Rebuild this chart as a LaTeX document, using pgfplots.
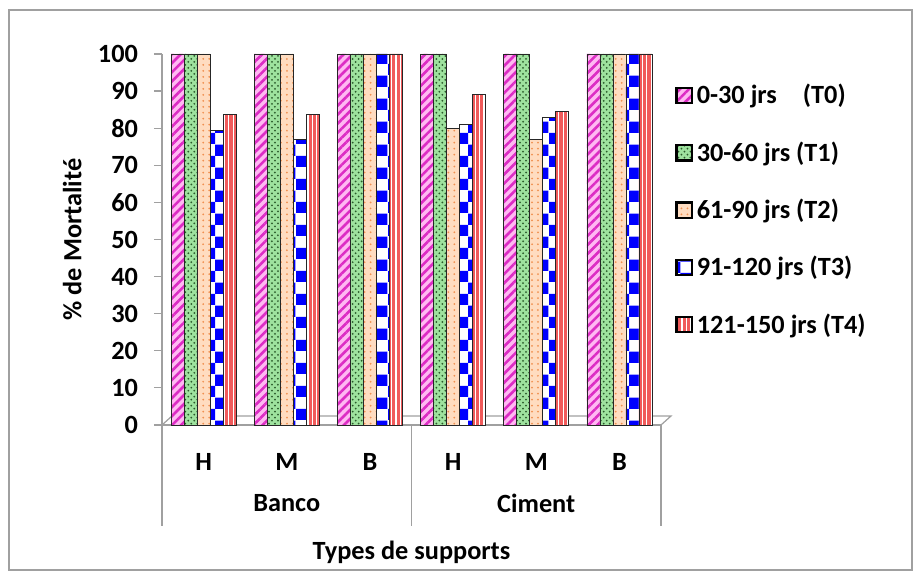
\documentclass[border=0pt]{standalone}
\usepackage{fontspec}
\setmainfont{Carlito}
\usepackage{pgfplots}
\pgfplotsset{compat=1.18}
\usetikzlibrary{patterns,patterns.meta}
\definecolor{pinkA}{HTML}{FFB8F2}
\definecolor{magA}{HTML}{DC2CC4}
\definecolor{grnA}{HTML}{9EE29E}
\definecolor{grnD}{HTML}{2A5A2A}
\definecolor{peach}{HTML}{FFDCC0}
\definecolor{orgA}{HTML}{F09050}
\definecolor{redA}{HTML}{F05A5A}
\definecolor{frame}{HTML}{A0A0A0}
\pgfplotstableread{
x T0 T1 T2 T3 T4
0 100 100 100 79.3 83.6
1 100 100 100 77.0 83.6
2 100 100 100 100 100
3 100 100 80.0 81.0 89.0
4 100 100 77.0 83.0 84.6
5 100 100 100 100 100
}\datatable
\begin{document}
\begin{tikzpicture}[font=\fontsize{13.2}{15.5}\selectfont\bfseries]
\useasboundingbox (0,0) rectangle (461bp,289.5bp);
\draw[frame, line width=0.6bp] (4.5bp,4.5bp) rectangle (456bp,284.5bp);
\begin{axis}[
  at={(81bp,77bp)}, anchor=south west,
  scale only axis, width=249.5bp, height=185.5bp,
  xmin=-0.5, xmax=5.5, ymin=0, ymax=100,
  ybar=0pt, bar width=6.5bp,
  axis x line*=bottom, axis y line*=left,
  axis line style={draw=frame, line width=0.6bp},
  ytick={0,10,...,100},
  ytick style={draw=frame, line width=0.6bp},
  tick align=outside, major tick length=4bp,
  xtick={0,1,2,3,4,5}, xticklabels={H,M,B,H,M,B},
  xtick style={draw=none},
  xticklabel style={anchor=center, yshift=-14.5bp},
  yticklabel style={xshift=-4.5bp},
  /pgf/number format/assume math mode=true,
  xlabel={Types de supports},
  xlabel style={at={(rel axis cs:0.5,-0.342)}, anchor=center},
  ylabel={\% de Mortalité},
  ylabel style={at={(rel axis cs:-0.18,0.5)}, anchor=center, rotate=0},
  clip=false,
  legend style={at={(1.016,0.941)}, anchor=north west, draw=none, fill=none,
     row sep=13.4bp, nodes={inner sep=2bp}, font=\fontsize{13.2}{15.5}\selectfont\bfseries},
  legend cell align=left,
  legend image code/.code={\draw[#1,draw=black,line width=1.1bp] (0bp,-3.8bp) rectangle (7.6bp,3.8bp);},
  every axis plot/.append style={draw=black!85, line width=0.4bp},
]
\draw[frame, line width=0.6bp] (axis cs:-0.5,0) -- ++(5bp,4.5bp) -- ([xshift=5bp,yshift=4.5bp]axis cs:5.5,0) -- (axis cs:5.5,0);
\addplot[fill=pinkA, postaction={pattern={Lines[angle=45,distance=3.2bp,line width=1.3bp]}, pattern color=magA}] table[x=x,y=T0] {\datatable};
\addplot[fill=grnA, postaction={pattern=crosshatch dots, pattern color=grnD}] table[x=x,y=T1] {\datatable};
\addplot[fill=peach, postaction={pattern=dots, pattern color=orgA}] table[x=x,y=T2] {\datatable};
\addplot[fill=white, postaction={pattern=checkerboard, pattern color=blue}] table[x=x,y=T3] {\datatable};
\addplot[fill=redA, postaction={pattern={Lines[angle=90,distance=2.2bp,line width=0.6bp]}, pattern color=white}] table[x=x,y=T4] {\datatable};
\legend{0-30 jrs\hspace{13bp}(T0), 30-60 jrs (T1), 61-90 jrs (T2), 91-120 jrs (T3), 121-150 jrs (T4)}
\draw[frame, line width=0.6bp] (axis cs:-0.5,0) -- ++(0bp,-50.5bp);
\draw[frame, line width=0.6bp] (axis cs:2.5,0) -- ++(0bp,-50.5bp);
\draw[frame, line width=0.6bp] (axis cs:5.5,0) -- ++(0bp,-50.5bp);
\node at (rel axis cs:0.25,-0.21) {Banco};
\node at (rel axis cs:0.75,-0.21) {Ciment};
\end{axis}
\end{tikzpicture}
\end{document}
